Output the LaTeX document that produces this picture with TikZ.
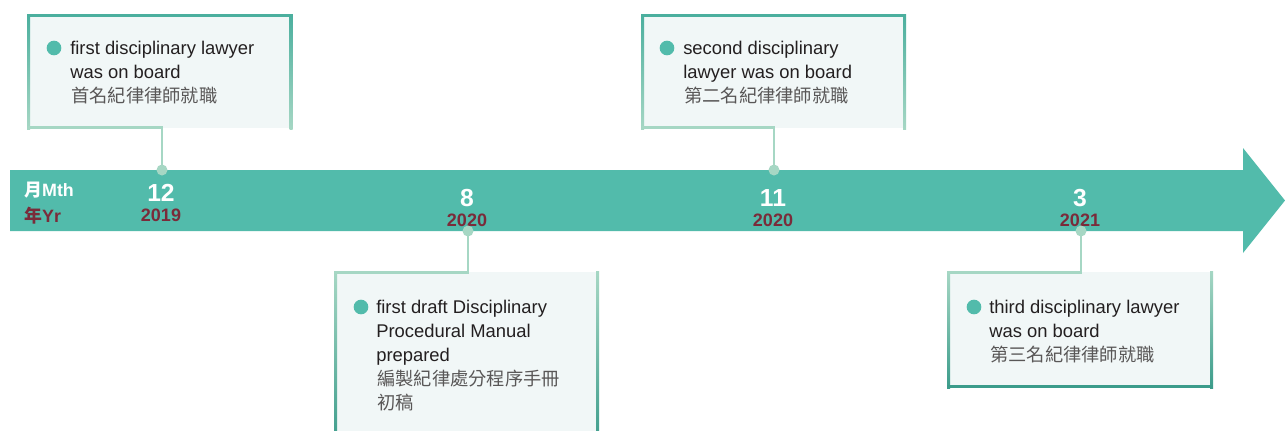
\documentclass[tikz,border=0pt]{standalone}
\usepackage{fontspec}
\setmainfont{Liberation Sans}
\newfontfamily\cjk{Noto Sans CJK TC}
\definecolor{barc}{HTML}{52BBAB}
\definecolor{lightc}{HTML}{A6D7C4}
\definecolor{topc}{HTML}{4BAF9E}
\definecolor{darkc}{HTML}{3C9C8B}
\definecolor{fillc}{HTML}{F1F7F7}
\definecolor{redc}{HTML}{7A2B3A}
\definecolor{textc}{HTML}{231F20}
\definecolor{grayc}{HTML}{595757}
\tikzset{
  en/.style={anchor=base west, inner sep=0pt, text=textc, font=\fontsize{13.8}{16}\selectfont},
  zh/.style={anchor=base west, inner sep=0pt, text=grayc, font=\cjk\fontsize{13.7}{16}\selectfont},
  bullet/.style={circle, fill=barc, inner sep=0pt, minimum size=11pt},
  dot/.style={circle, fill=lightc, inner sep=0pt, minimum size=8.25pt},
  conn/.style={draw=lightc, line width=1.65pt},
  mon/.style={inner sep=0pt, text=white, font=\bfseries\fontsize{18.5}{20}\selectfont},
  yr/.style={inner sep=0pt, text=redc, font=\bfseries\fontsize{13.5}{15}\selectfont},
  lbl/.style={anchor=west, inner sep=0pt, font=\bfseries\fontsize{13.4}{15}\selectfont},
}
\begin{document}
\begin{tikzpicture}[x=0.75pt, y=-0.75pt]
\useasboundingbox (0,0) rectangle (1285,430);
\clip (0,0) rectangle (1285,430);

% timeline bar
\fill[barc] (10,170) -- (1243,170) -- (1243,148) -- (1285,200.5) -- (1243,253) -- (1243,231) -- (10,231) -- cycle;

\node[lbl, text=white] (mth) at (24,190) {{\cjk 月}Mth};
\node[lbl, text=redc] (yrl) at (24,216) {{\cjk 年}Yr};

% dates
\node[mon] (m1) at (161,193) {12};
\node[yr] (y1) at (161,215) {2019};
\node[mon] (m2) at (467,198) {8};
\node[yr] (y2) at (467,220) {2020};
\node[mon] (m3) at (773,198) {11};
\node[yr] (y3) at (773,220) {2020};
\node[mon] (m4) at (1080,198) {3};
\node[yr] (y4) at (1080,220) {2021};

% ---------- Box 1 (top) ----------
\fill[fillc] (28,15) rectangle (292,128);
\shade[top color=topc, bottom color=lightc] (27,14) rectangle (30,129.5);
\shade[top color=topc, bottom color=lightc] (289.5,14) rectangle (292.5,129.5);
\fill[topc] (27,14) rectangle (292.5,17);
\coordinate (b1c) at (162,127.5);
\node[dot] (d1) at (162,170) {};
\draw[conn] (28,127.5) -- (b1c) -- (d1.center);
\node[bullet] (u1) at (54,48) {};
\node[en] (t1a) at (70,54) {first disciplinary lawyer};
\node[en] (t1b) at (70,78) {was on board};
\node[zh] (t1c) at (71,102.5) {首名紀律律師就職};

% ---------- Box 3 (top) ----------
\fill[fillc] (642,15) rectangle (905,128);
\shade[top color=topc, bottom color=lightc] (641,14) rectangle (644,129.5);
\shade[top color=topc, bottom color=lightc] (903,14) rectangle (906,129.5);
\fill[topc] (641,14) rectangle (906,17);
\coordinate (b3c) at (774,127.5);
\node[dot] (d3) at (774,170) {};
\draw[conn] (642,127.5) -- (b3c) -- (d3.center);
\node[bullet] (u3) at (667,48) {};
\node[en] (t3a) at (683,54) {second disciplinary};
\node[en] (t3b) at (683,78) {lawyer was on board};
\node[zh] (t3c) at (684,102.5) {第二名紀律律師就職};

% ---------- Box 2 (bottom) ----------
\fill[fillc] (335,272) rectangle (598,445);
\shade[top color=lightc, bottom color=darkc] (334,271) rectangle (337,445);
\shade[top color=lightc, bottom color=darkc] (596,271) rectangle (599,445);
\coordinate (b2c) at (468,272.5);
\node[dot] (d2) at (468,231) {};
\draw[conn] (335,272.5) -- (b2c) -- (d2.center);
\node[bullet] (u2) at (361,307) {};
\node[en] (t2a) at (376,313) {first draft Disciplinary};
\node[en] (t2b) at (376,337) {Procedural Manual};
\node[en] (t2c) at (376,361) {prepared};
\node[zh] (t2d) at (377,385.5) {編製紀律處分程序手冊};
\node[zh] (t2e) at (377,409.5) {初稿};

% ---------- Box 4 (bottom) ----------
\fill[fillc] (948,272) rectangle (1212,386);
\shade[top color=lightc, bottom color=darkc] (947,271) rectangle (950,388);
\shade[top color=lightc, bottom color=darkc] (1210,271) rectangle (1213,388);
\fill[darkc] (947,385) rectangle (1213,388);
\coordinate (b4c) at (1081,272.5);
\node[dot] (d4) at (1081,231) {};
\draw[conn] (948,272.5) -- (b4c) -- (d4.center);
\node[bullet] (u4) at (974,307) {};
\node[en] (t4a) at (989,313) {third disciplinary lawyer};
\node[en] (t4b) at (989,337) {was on board};
\node[zh] (t4c) at (990,361.5) {第三名紀律律師就職};
\end{tikzpicture}
\end{document}
